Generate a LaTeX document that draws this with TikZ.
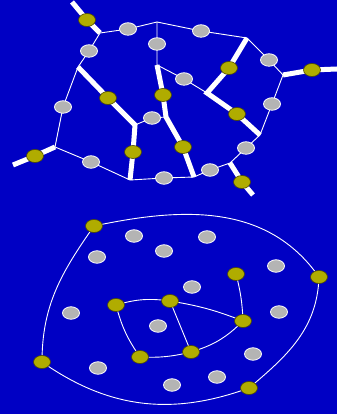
\documentclass[tikz,border=0pt]{standalone}
\usetikzlibrary{shapes.geometric,backgrounds}
\definecolor{sea}{HTML}{0000C4}
\definecolor{olive}{HTML}{B0AC00}
\definecolor{oliverim}{HTML}{4A4800}
\definecolor{pebble}{HTML}{B4B4B4}

\begin{document}
\begin{tikzpicture}[x=1pt,y=1pt,line cap=butt,line join=round,
    gdot/.style={ellipse,fill=pebble,draw=white,line width=.8pt,
                 minimum width=17pt,minimum height=12.5pt,inner sep=0pt},
    odot/.style={ellipse,fill=olive,draw=oliverim,line width=.6pt,
                 minimum width=17pt,minimum height=13pt,inner sep=0pt},
    road/.style={white,line width=5pt},
    lane/.style={white,line width=.9pt}]
  \useasboundingbox (0,0) rectangle (337,414);

  % Upper map: stops on the streets.
  \node[gdot] (g1) at (128,385) {};
  \node[gdot] (g2) at (201,383) {};
  \node[gdot] (g3) at (89,363) {};
  \node[gdot] (g4) at (157,370) {};
  \node[gdot] (g5) at (269,354) {};
  \node[gdot] (g6) at (184,335) {};
  \node[gdot] (g7) at (63,307) {};
  \node[gdot] (g8) at (272,310) {};
  \node[gdot] (g9) at (152,296) {};
  \node[gdot] (g10) at (246,266) {};
  \node[gdot] (g11) at (91,252) {};
  \node[gdot] (g12) at (210,244) {};
  \node[gdot] (g13) at (164,236) {};

  \node[odot] (o1) at (87,394) {};
  \node[odot] (o2) at (229,346) {};
  \node[odot] (o3) at (312,344) {};
  \node[odot] (o4) at (108,316) {};
  \node[odot] (o5) at (163,319) {};
  \node[odot] (o6) at (237,300) {};
  \node[odot] (o7) at (133,262) {};
  \node[odot] (o8) at (183,267) {};
  \node[odot] (o9) at (35,258) {};
  \node[odot] (o10) at (242,232) {};

  % Junctions and road ends.
  \coordinate (jA) at (100,381);
  \coordinate (jB) at (157,392);
  \coordinate (jC) at (247,376);
  \coordinate (jD) at (283,339);
  \coordinate (jE) at (260,279);
  \coordinate (jF) at (230,251);
  \coordinate (jG) at (194,237);
  \coordinate (jH) at (130,234);
  \coordinate (jI) at (55,267);
  \coordinate (jJ) at (78,347);
  \coordinate (jK) at (135,289);
  \coordinate (jL) at (157,349);
  \coordinate (jM) at (166,297);
  \coordinate (jN) at (207,321);
  \coordinate (eA) at (72,412);
  \coordinate (eD) at (337,345);
  \coordinate (eF) at (253,219);
  \coordinate (eI) at (13,249);

  % Lower map: stops and the two loops.
  \node[odot] (p1) at (94,188) {};
  \node[odot] (p2) at (319,137) {};
  \node[odot] (p3) at (249,26) {};
  \node[odot] (p4) at (42,52) {};
  \node[odot] (p5) at (116,109) {};
  \node[odot] (p6) at (170,113) {};
  \node[odot] (p7) at (243,93) {};
  \node[odot] (p8) at (236,140) {};
  \node[odot] (p9) at (140,57) {};
  \node[odot] (p10) at (191,62) {};

  \node[gdot] (q1) at (134,178) {};
  \node[gdot] (q2) at (207,177) {};
  \node[gdot] (q3) at (164,163) {};
  \node[gdot] (q4) at (97,157) {};
  \node[gdot] (q5) at (276,148) {};
  \node[gdot] (q6) at (192,127) {};
  \node[gdot] (q7) at (71,101) {};
  \node[gdot] (q8) at (279,102) {};
  \node[gdot] (q9) at (158,88) {};
  \node[gdot] (q10) at (253,60) {};
  \node[gdot] (q11) at (98,46) {};
  \node[gdot] (q12) at (217,37) {};
  \node[gdot] (q13) at (172,29) {};

  \begin{pgfonlayer}{background}
    \fill[sea] (0,0) rectangle (337,414);

    % Thin streets of the ring.
    \draw[lane] (jA) -- (g1.center) -- (jB) -- (g2.center) -- (jC)
      -- (g5.center) -- (jD) -- (g8.center) -- (jE) -- (g10.center) -- (jF)
      -- (g12.center) -- (jG) -- (g13.center) -- (jH) -- (g11.center)
      -- (jI) -- (g7.center) -- (jJ) -- (g3.center) -- cycle;
    \draw[lane] (jB) -- (g4.center) -- (jL) -- (g6.center) -- (jN);
    \draw[lane] (jK) -- (g9.center) -- (jM);

    % Main roads.
    \draw[road] (eA) -- (o1.center) -- (jA);
    \draw[road] (jD) -- (o3.center) -- (eD);
    \draw[road] (jF) -- (o10.center) -- (eF);
    \draw[road] (jI) -- (o9.center) -- (eI);
    \draw[road] (jJ) -- (o4.center) -- (jK) -- (o7.center) -- (jH);
    \draw[road] (jL) -- (o5.center) -- (jM) -- (o8.center) -- (jG);
    \draw[road] (jC) -- (o2.center) -- (jN) -- (o6.center) -- (jE);

    % Outer loop.
    \draw[lane] (p1.center) to[out=12,in=125] (p2.center)
      to[out=-92,in=40] (p3.center)
      to[out=200,in=-35] (p4.center)
      to[out=90,in=-125] (p1.center);

    % Inner loop.
    \draw[lane] (p5.center) to[bend left=12] (p6.center)
      to[bend left=6] (p7.center);
    \draw[lane] (p7.center) to[bend right=6] (p8.center);
    \draw[lane] (p5.center) to[bend right=10] (p9.center)
      to[bend right=8] (p10.center) to[bend right=14] (p7.center);
    \draw[lane] (p6.center) -- (p10.center);
  \end{pgfonlayer}
\end{tikzpicture}
\end{document}
